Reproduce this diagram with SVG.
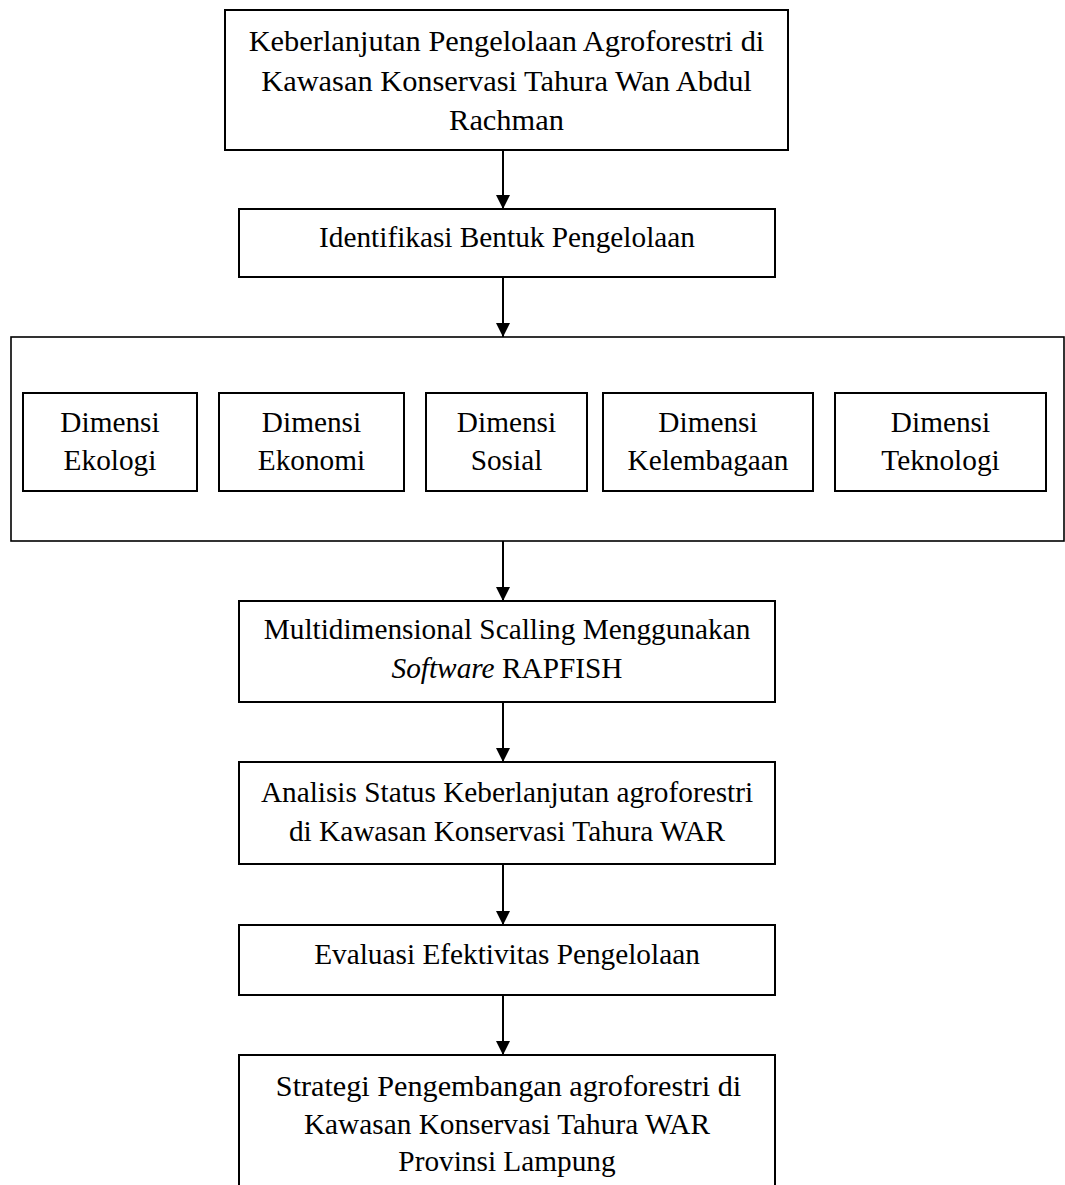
<svg xmlns="http://www.w3.org/2000/svg" width="1065" height="1185" viewBox="0 0 1065 1185">
<defs>
<style>
.box{fill:#fff;stroke:#000;stroke-width:2}
.outer{fill:#fff;stroke:#000;stroke-width:1.6}
.t{font-family:"Liberation Serif","Times New Roman",serif;font-size:29.3px;fill:#000;text-anchor:middle}
.big{font-size:30.4px}
.c{stroke:#000;stroke-width:2;fill:none}
</style>
<marker id="ah" markerWidth="14" markerHeight="14" viewBox="0 0 14 14" refX="14" refY="7" orient="auto" markerUnits="userSpaceOnUse">
<path d="M0,0 L14,7 L0,14 Z" fill="#000"/>
</marker>
</defs>
<rect width="1065" height="1185" fill="#fff"/>
<g id="connectors">
<line class="c" x1="503" y1="150" x2="503" y2="209" marker-end="url(#ah)"/>
<line class="c" x1="503" y1="277" x2="503" y2="337" marker-end="url(#ah)"/>
<line class="c" x1="503" y1="541" x2="503" y2="601" marker-end="url(#ah)"/>
<line class="c" x1="503" y1="702" x2="503" y2="762" marker-end="url(#ah)"/>
<line class="c" x1="503" y1="864" x2="503" y2="925" marker-end="url(#ah)"/>
<line class="c" x1="503" y1="995" x2="503" y2="1055" marker-end="url(#ah)"/>
</g>
<g id="n1">
<rect class="box" x="225" y="10" width="563" height="140"/>
<text class="t big" x="506.5" y="51">Keberlanjutan Pengelolaan Agroforestri di</text>
<text class="t big" x="506.5" y="90.5">Kawasan Konservasi Tahura Wan Abdul</text>
<text class="t big" x="506.5" y="130">Rachman</text>
</g>
<g id="n2">
<rect class="box" x="239" y="209" width="536" height="68"/>
<text class="t" x="507" y="247">Identifikasi Bentuk Pengelolaan</text>
</g>
<g id="n3">
<rect class="outer" x="11" y="337" width="1053" height="204"/>
</g>
<g id="d1">
<rect class="box" x="23" y="393" width="174" height="98"/>
<text class="t" x="110" y="432">Dimensi</text>
<text class="t" x="110" y="470">Ekologi</text>
</g>
<g id="d2">
<rect class="box" x="219" y="393" width="185" height="98"/>
<text class="t" x="311.5" y="432">Dimensi</text>
<text class="t" x="311.5" y="470">Ekonomi</text>
</g>
<g id="d3">
<rect class="box" x="426" y="393" width="161" height="98"/>
<text class="t" x="506.5" y="432">Dimensi</text>
<text class="t" x="506.5" y="470">Sosial</text>
</g>
<g id="d4">
<rect class="box" x="603" y="393" width="210" height="98"/>
<text class="t" x="708" y="432">Dimensi</text>
<text class="t" x="708" y="470">Kelembagaan</text>
</g>
<g id="d5">
<rect class="box" x="835" y="393" width="211" height="98"/>
<text class="t" x="940.5" y="432">Dimensi</text>
<text class="t" x="940.5" y="470">Teknologi</text>
</g>
<g id="n4">
<rect class="box" x="239" y="601" width="536" height="101"/>
<text class="t" x="507" y="638.5">Multidimensional Scalling Menggunakan</text>
<text class="t" x="507" y="678"><tspan font-style="italic">Software</tspan> RAPFISH</text>
</g>
<g id="n5">
<rect class="box" x="239" y="762" width="536" height="102"/>
<text class="t" x="507" y="802">Analisis Status Keberlanjutan agroforestri</text>
<text class="t" x="507" y="841">di Kawasan Konservasi Tahura WAR</text>
</g>
<g id="n6">
<rect class="box" x="239" y="925" width="536" height="70"/>
<text class="t" x="507" y="963.5">Evaluasi Efektivitas Pengelolaan</text>
</g>
<g id="n7">
<rect class="box" x="239" y="1055" width="536" height="140"/>
<text class="t" x="508.5" y="1096" style="font-size:30.2px">Strategi Pengembangan agroforestri di</text>
<text class="t" x="507" y="1133.5">Kawasan Konservasi Tahura WAR</text>
<text class="t" x="507" y="1171">Provinsi Lampung</text>
</g>
</svg>
